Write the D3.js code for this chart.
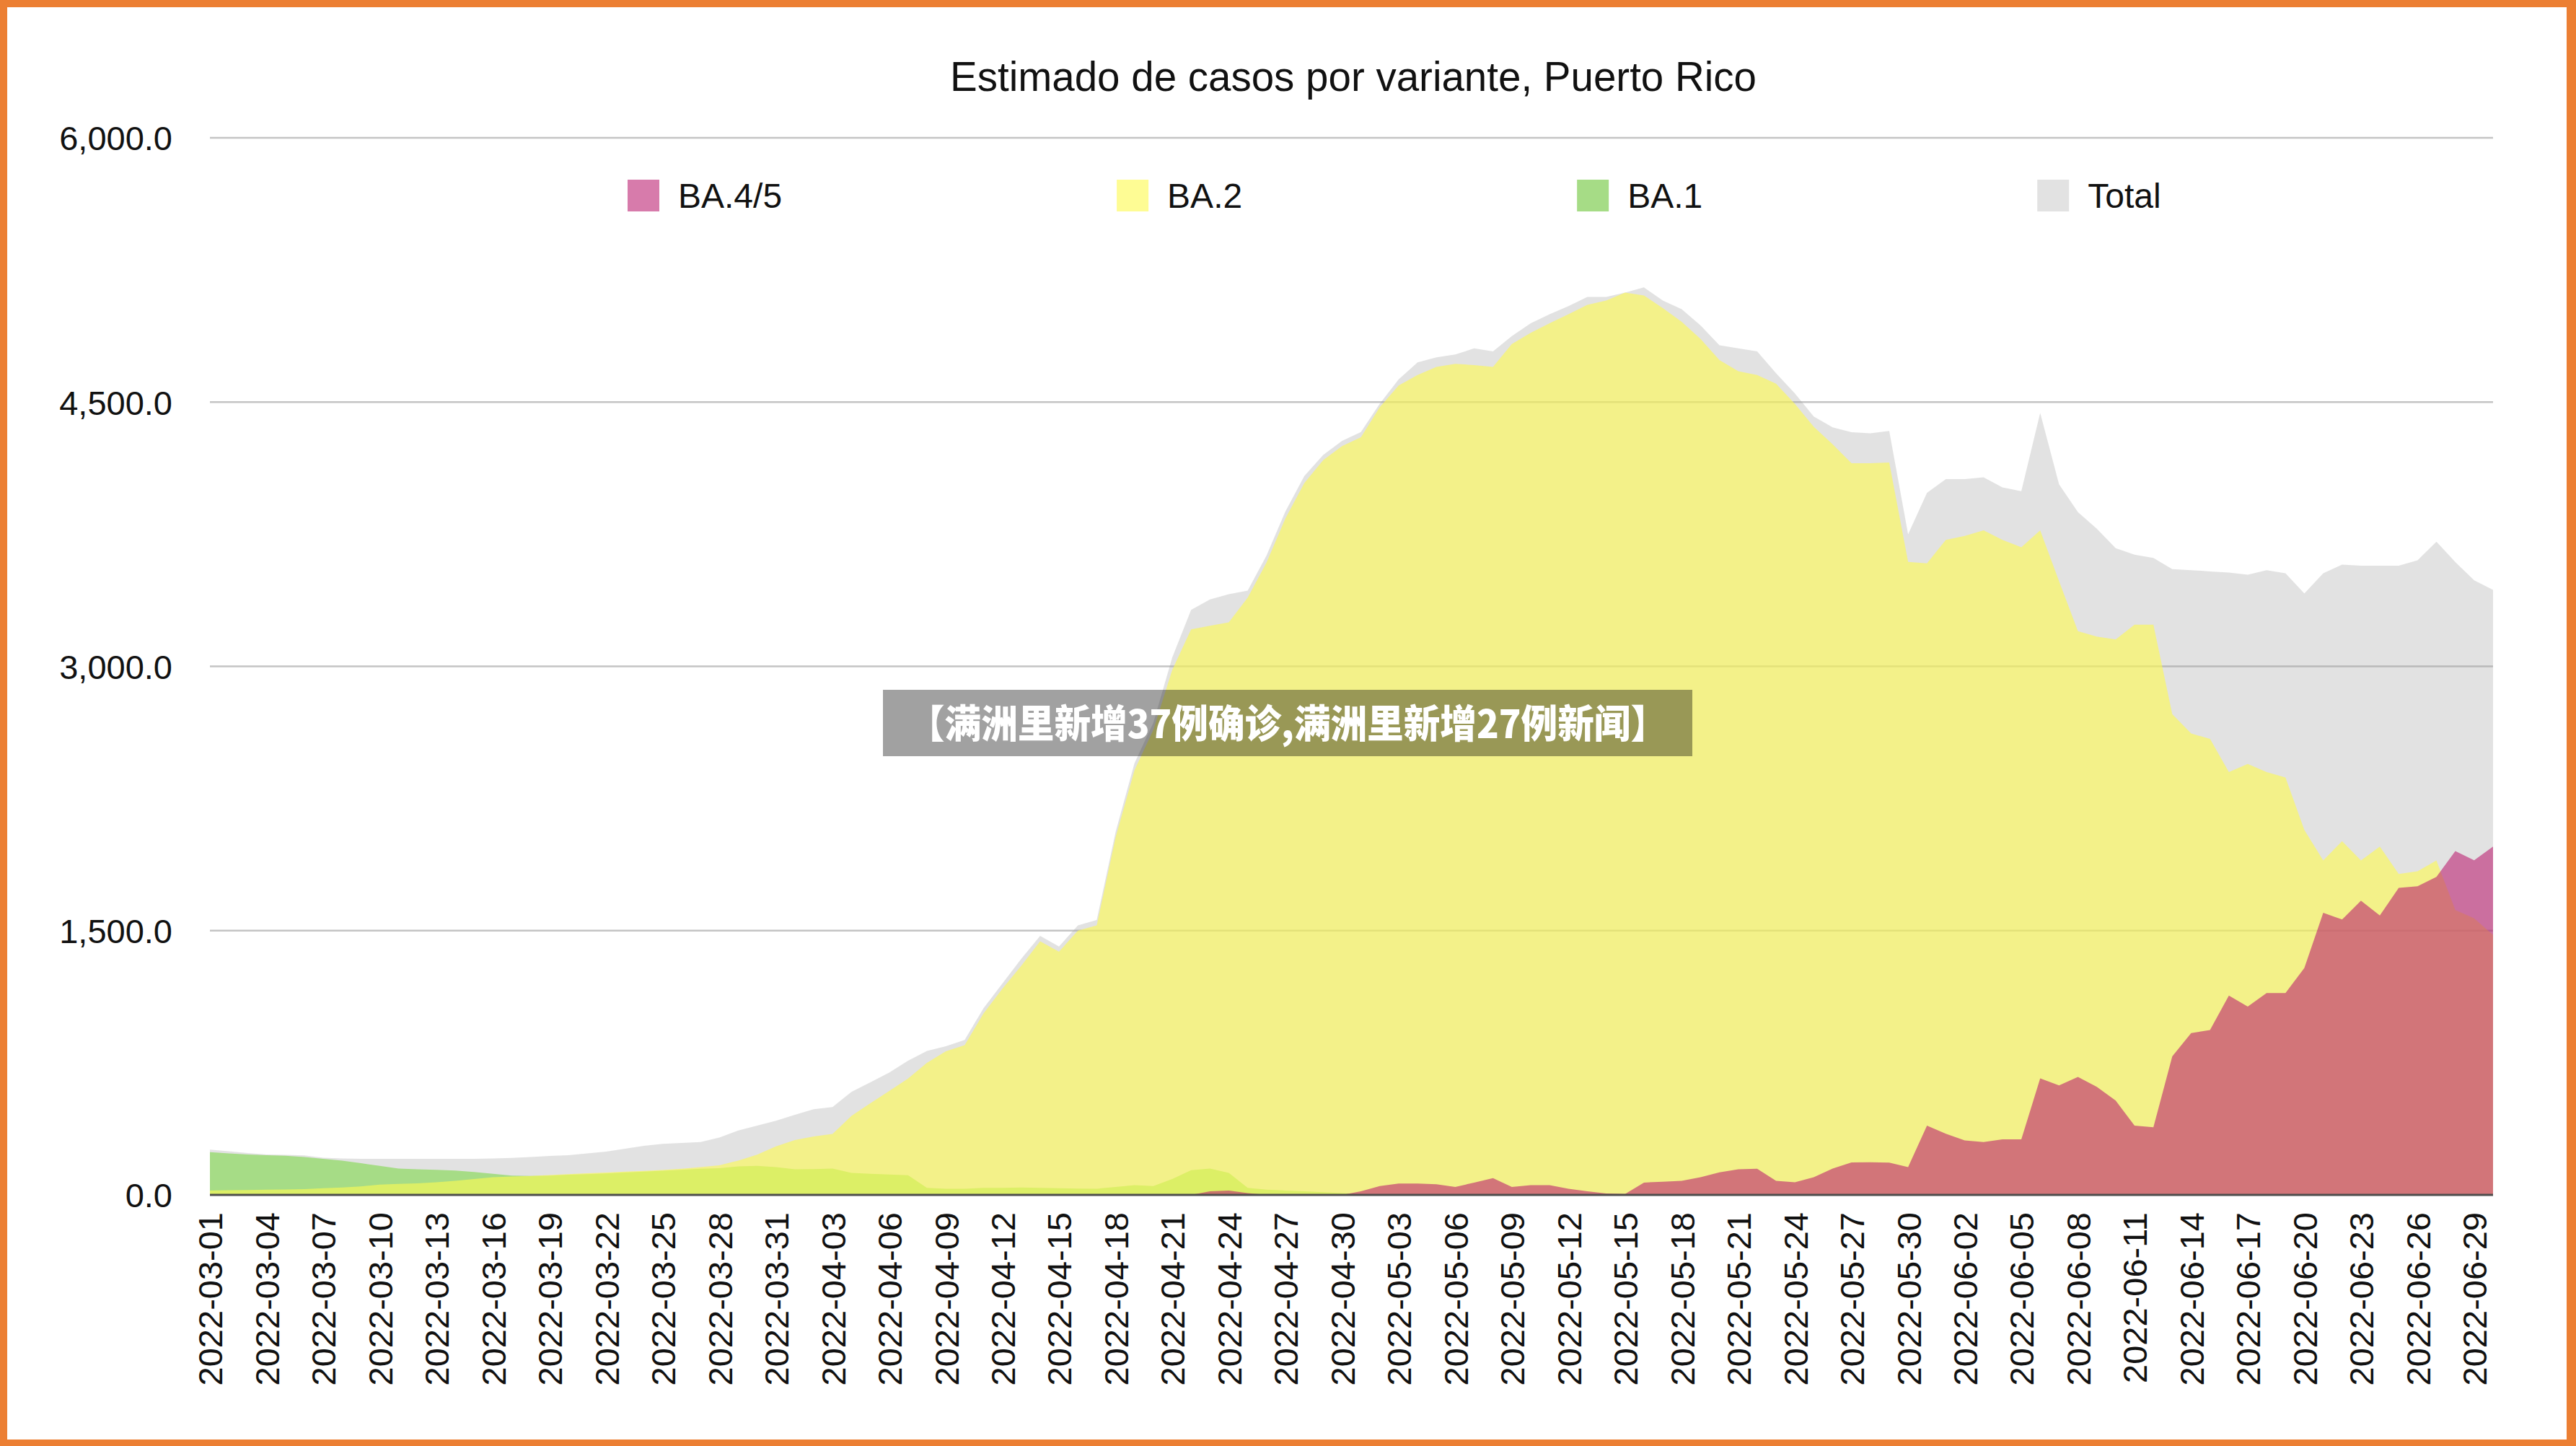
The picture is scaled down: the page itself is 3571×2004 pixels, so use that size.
<!DOCTYPE html>
<html>
<head>
<meta charset="utf-8">
<script src="https://cdn.jsdelivr.net/npm/d3@7"></script>
<style>
  html, body { margin: 0; padding: 0; background: #fff; }
  svg { display: block; font-family: 'Liberation Sans', Arial, Helvetica, sans-serif; }
</style>
</head>
<body>
<svg id="chart"></svg>
<script>
const title = 'Estimado de casos por variante, Puerto Rico'
const seriesNames = ['BA.4/5', 'BA.2', 'BA.1', 'Total']
const yTicks = [0, 1500, 3000, 4500, 6000]
// one point per day, 2022-03-01 .. 2022-06-30
const dates = d3.timeDay.range(new Date(2022, 2, 1), new Date(2022, 6, 1)).map(d3.timeFormat('%Y-%m-%d'))
const tickDates = dates.filter((d, i) => i % 3 === 0)

const total = [
  257, 248, 238, 229, 227, 224, 211, 207, 205, 205,
  205, 205, 205, 205, 205, 207, 210, 215, 221, 225,
  236, 246, 262, 278, 290, 295, 300, 326, 366, 393,
  421, 455, 486, 499, 585, 639, 694, 762, 817, 844,
  880, 1060, 1200, 1340, 1470, 1410, 1530, 1560, 2060, 2450,
  2680, 3050, 3320, 3380, 3410, 3430, 3630, 3880, 4080, 4200,
  4280, 4330, 4491, 4629, 4725, 4754, 4770, 4805, 4788, 4875,
  4947, 4999, 5045, 5097, 5097, 5122, 5151, 5076, 5027, 4935,
  4823, 4805, 4788, 4664, 4549, 4418, 4357, 4329, 4323, 4336,
  3750, 3985, 4063, 4063, 4073, 4016, 3994, 4439, 4033, 3875,
  3781, 3671, 3634, 3615, 3552, 3546, 3539, 3532, 3520, 3546,
  3528, 3414, 3528, 3577, 3571, 3571, 3571, 3602, 3708, 3592,
  3488, 3434
]
const ba2 = [
  25, 27, 28, 30, 31, 33, 38, 42, 48, 58,
  62, 66, 72, 80, 90, 100, 104, 108, 113, 118,
  123, 127, 132, 136, 141, 148, 158, 168, 195, 228,
  275, 311, 332, 346, 448, 520, 590, 660, 750, 815,
  850, 1030, 1170, 1300, 1440, 1380, 1500, 1530, 2030, 2410,
  2640, 2980, 3210, 3230, 3250, 3390, 3590, 3840, 4040, 4170,
  4250, 4300, 4471, 4594, 4654, 4700, 4717, 4710, 4700, 4830,
  4893, 4947, 4999, 5052, 5076, 5122, 5105, 5033, 4956, 4858,
  4739, 4675, 4654, 4604, 4490, 4360, 4260, 4153, 4153, 4157,
  3593, 3585, 3718, 3740, 3772, 3718, 3676, 3772, 3483, 3200,
  3169, 3153, 3237, 3237, 2729, 2619, 2588, 2400, 2446, 2400,
  2369, 2071, 1898, 2008, 1898, 1977, 1822, 1837, 1898, 1617,
  1570, 1475
]
const ba1 = [
  243, 236, 229, 225, 222, 215, 205, 195, 180, 165,
  150, 145, 142, 138, 130, 120, 110, 108, 110, 115,
  118, 122, 127, 132, 137, 142, 148, 152, 162, 165,
  158, 145, 146, 150, 125, 120, 116, 112, 40, 35,
  35, 40, 40, 42, 40, 38, 36, 35, 45, 55,
  50, 90, 140, 150, 125, 40, 30, 25, 20, 15,
  10, 5, 0, 0, 0, 0, 0, 0, 0, 0,
  0, 0, 0, 0, 0, 0, 0, 0, 0, 0,
  0, 0, 0, 0, 0, 0, 0, 0, 0, 0,
  0, 0, 0, 0, 0, 0, 0, 0, 0, 0,
  0, 0, 0, 0, 0, 0, 0, 0, 0, 0,
  0, 0, 0, 0, 0, 0, 0, 0, 0, 0,
  0, 0
]
const ba45 = [
  0, 0, 0, 0, 0, 0, 0, 0, 0, 0,
  0, 0, 0, 0, 0, 0, 0, 0, 0, 0,
  0, 0, 0, 0, 0, 0, 0, 0, 0, 0,
  0, 0, 0, 0, 0, 0, 0, 0, 0, 0,
  0, 0, 0, 0, 0, 0, 0, 0, 0, 0,
  0, 0, 0, 20, 25, 10, 0, 0, 0, 0,
  0, 20, 50, 65, 65, 60, 45, 70, 95, 45,
  55, 55, 35, 20, 8, 5, 70, 75, 80, 100,
  128, 145, 148, 80, 72, 100, 150, 184, 185, 183,
  158, 393, 347, 309, 300, 315, 315, 661, 622, 670,
  613, 535, 393, 384, 786, 918, 936, 1131, 1069, 1146,
  1146, 1288, 1601, 1563, 1670, 1586, 1743, 1752, 1805, 1952,
  1899, 1977
]
const banner = '【满洲里新增37例确诊,满洲里新增27例新闻】'

const values = { 'BA.4/5': ba45, 'BA.2': ba2, 'BA.1': ba1, 'Total': total }
const look = {
  'Total': { fill: '#a0a0a0', opacity: 0.31 },
  'BA.1': { fill: '#a6dc86', opacity: 1 },
  'BA.2': { fill: 'rgb(253,250,82)', opacity: 0.62 },
  'BA.4/5': { fill: 'rgb(186,28,110)', opacity: 0.58 }
}

const width = 3571
const height = 2004
const plot = { left: 291, right: 3456, top: 191, bottom: 1656 }

const svg = d3.select('#chart')
  .attr('width', width)
  .attr('height', height)
  .attr('viewBox', `0 0 ${width} ${height}`)

svg.append('rect').attr('width', width).attr('height', height).attr('fill', '#fff')

const x = d3.scalePoint().domain(dates).range([plot.left, plot.right])
const y = d3.scaleLinear().domain([0, 6000]).range([plot.bottom, plot.top])

// grid lines (under the areas, so they fade through the fills)
svg.append('g')
  .selectAll('line')
  .data(yTicks.filter(d => d > 0))
  .enter().append('line')
  .attr('x1', plot.left)
  .attr('x2', plot.right)
  .attr('y1', d => y(d))
  .attr('y2', d => y(d))
  .attr('stroke', '#c4c4c4')
  .attr('stroke-width', 2.5)

// areas, back to front: Total, BA.1, BA.2, BA.4/5
const area = d3.area()
  .x((d, i) => x(dates[i]))
  .y0(y(0))
  .y1(d => y(d))

svg.append('g')
  .selectAll('path')
  .data(seriesNames.slice().reverse())
  .enter().append('path')
  .attr('d', name => area(values[name]))
  .attr('fill', name => look[name].fill)
  .attr('fill-opacity', name => look[name].opacity)

// baseline
svg.append('line')
  .attr('x1', plot.left)
  .attr('x2', plot.right)
  .attr('y1', y(0))
  .attr('y2', y(0))
  .attr('stroke', '#4d4d4d')
  .attr('stroke-width', 3)

// y axis labels
const yAxis = svg.append('g')
  .attr('transform', `translate(${plot.left},0)`)
  .call(d3.axisLeft(y).tickValues(yTicks).tickFormat(d3.format(',.1f')).tickSize(0).tickPadding(52))
yAxis.select('.domain').remove()
yAxis.selectAll('text')
  .attr('font-family', "'Liberation Sans', Arial, sans-serif")
  .attr('font-size', 47)
  .attr('fill', '#111')
  .attr('dy', '0.36em')

// x axis labels, rotated
const xAxis = svg.append('g')
  .attr('transform', `translate(0,${plot.bottom})`)
  .call(d3.axisBottom(x).tickValues(tickDates).tickSize(0))
xAxis.select('.domain').remove()
xAxis.selectAll('text')
  .attr('font-family', "'Liberation Sans', Arial, sans-serif")
  .attr('font-size', 47)
  .attr('fill', '#111')
  .attr('transform', 'rotate(-90)')
  .attr('x', -24)
  .attr('y', 0)
  .attr('dy', '0.36em')
  .style('text-anchor', 'end')

// title
svg.append('text')
  .attr('x', 1876)
  .attr('y', 126)
  .attr('text-anchor', 'middle')
  .attr('font-size', 56.5)
  .attr('fill', '#111')
  .text(title)

// legend, laid out left to right
const legend = svg.append('g').attr('transform', 'translate(870,271)')
let lx = 0
seriesNames.forEach(name => {
  const item = legend.append('g').attr('transform', `translate(${lx},0)`)
  item.append('rect')
    .attr('x', 0)
    .attr('y', -22)
    .attr('width', 44)
    .attr('height', 44)
    .attr('fill', look[name].fill)
    .attr('fill-opacity', look[name].opacity)
  const t = item.append('text')
    .attr('x', 70)
    .attr('dy', '0.36em')
    .attr('font-size', 48)
    .attr('fill', '#111')
    .text(name)
  lx += 70 + t.node().getComputedTextLength() + 464
})

// overlay banner
svg.append('rect')
  .attr('x', 1224)
  .attr('y', 956)
  .attr('width', 1122)
  .attr('height', 92)
  .attr('fill', '#000')
  .attr('fill-opacity', 0.37)
svg.append('text')
  .attr('x', 1785)
  .attr('y', 999)
  .attr('text-anchor', 'middle')
  .attr('dominant-baseline', 'central')
  .attr('font-family', "'Noto Sans CJK SC', sans-serif")
  .attr('font-weight', 900)
  .attr('font-size', 54)
  .attr('textLength', 1052)
  .attr('lengthAdjust', 'spacingAndGlyphs')
  .attr('fill', '#fff')
  .text(banner)

// orange frame
const frame = '#ec7f33'
svg.append('rect').attr('x', 0).attr('y', 0).attr('width', width).attr('height', 10).attr('fill', frame)
svg.append('rect').attr('x', 0).attr('y', height - 9).attr('width', width).attr('height', 9).attr('fill', frame)
svg.append('rect').attr('x', 0).attr('y', 0).attr('width', 10).attr('height', height).attr('fill', frame)
svg.append('rect').attr('x', width - 13).attr('y', 0).attr('width', 13).attr('height', height).attr('fill', frame)
</script>
</body>
</html>
